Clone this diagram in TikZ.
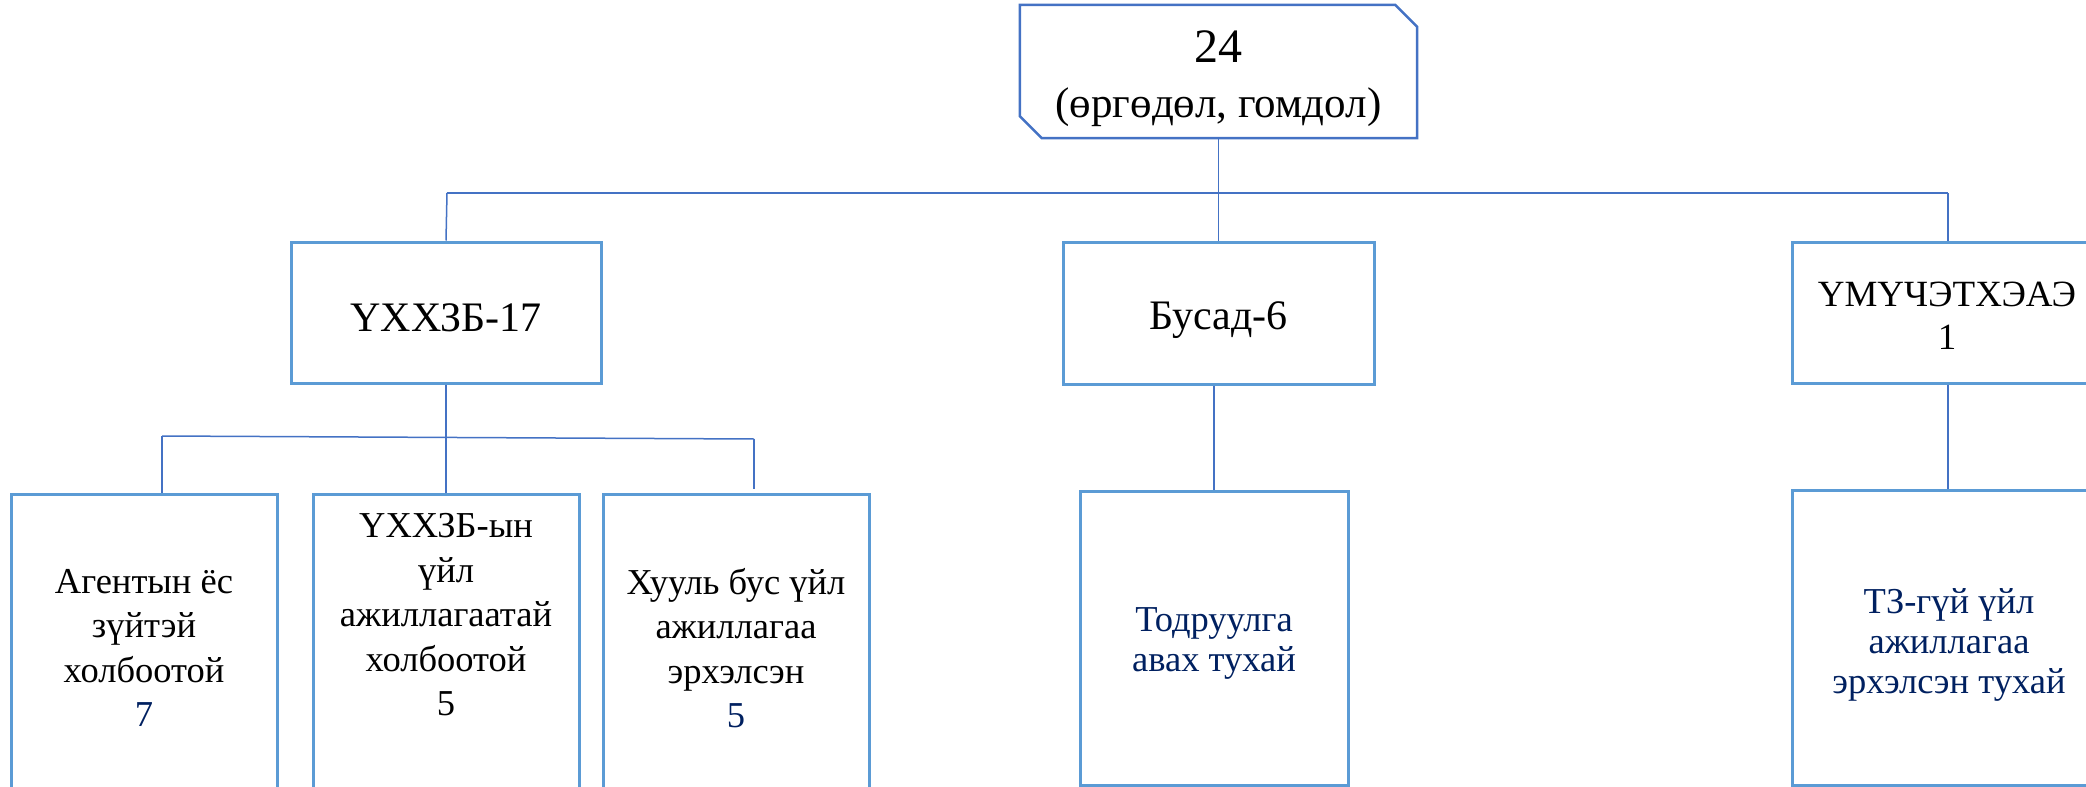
\documentclass[tikz,border=0pt]{standalone}
\usepackage{fontspec}
\setmainfont{Liberation Serif}
\usetikzlibrary{calc}
\definecolor{boxblue}{HTML}{5B9BD5}
\definecolor{lineblue}{HTML}{4472C4}
\definecolor{navy}{HTML}{002060}
\begin{document}
\begin{tikzpicture}[x=1pt,y=-1pt,
  box/.style={draw=boxblue, line width=3pt, rectangle, inner sep=0pt},
  txt/.style={align=center, inner sep=0pt},
  conn/.style={draw=lineblue, line width=1.5pt},
  midfont/.style={font=\fontsize{42}{46}\selectfont},
  lowfont/.style={font=\fontsize{36.5}{44.5}\selectfont}]
\useasboundingbox (0,0) rectangle (2086,787);
% top
\node[minimum width=397pt, minimum height=133pt, inner sep=0pt] (top) at (1218.5,71.5) {};
\draw[draw=lineblue, line width=2.5pt] (top.north west) -- ([xshift=-22pt]top.north east) -- ([yshift=-22pt]top.north east) -- (top.south east) -- ([xshift=22pt]top.south west) -- ([yshift=22pt]top.south west) -- cycle;
\node[txt, font=\fontsize{43}{55}\selectfont] (toptxt) at (1218.5,79) {{\fontsize{48}{55}\selectfont 24}\\(өргөдөл, гомдол)};
% level 2
\node[box, minimum width=310pt, minimum height=141pt] (b1) at (446,312.5) {};
\node[txt, midfont] (b1t) at (446,318) {ҮХХЗБ-17};
\node[box, minimum width=311pt, minimum height=142pt] (b2) at (1218.5,313) {};
\node[txt, midfont] (b2t) at (1218.5,320) {Бусад-6};
\node[box, minimum width=312pt, minimum height=141pt] (b3) at (1948,312.5) {};
\node[txt, font=\fontsize{37}{43}\selectfont] (b3t) at (1947,316) {ҮМҮЧЭТХЭАЭ\\1};
% level 3
\node[box, minimum width=266pt, minimum height=306pt] (c1) at (144,647) {};
\node[txt, lowfont] (c1t) at (144,648) {Агентын ёс\\зүйтэй\\холбоотой\\\textcolor{navy}{7}};
\node[box, minimum width=266pt, minimum height=306pt] (c2) at (446,647) {};
\node[txt, lowfont] (c2t) at (446,615) {ҮХХЗБ-ын\\үйл\\ажиллагаатай\\холбоотой\\5};
\node[box, minimum width=266pt, minimum height=306pt] (c3) at (736,647) {};
\node[txt, lowfont] (c3t) at (736,648) {Хууль бус үйл\\ажиллагаа\\эрхэлсэн\\\textcolor{navy}{5}};
\node[box, minimum width=268pt, minimum height=294pt] (c4) at (1214,638) {};
\node[txt, lowfont, text=navy, font=\fontsize{36.5}{40}\selectfont] (c4t) at (1214,643) {Тодруулга\\авах тухай};
\node[box, minimum width=312pt, minimum height=295pt] (c5) at (1948,637.5) {};
\node[txt, text=navy, font=\fontsize{36.5}{40}\selectfont] (c5t) at (1949,645) {ТЗ-гүй үйл\\ажиллагаа\\эрхэлсэн тухай};
% connectors
\coordinate (jl) at (447,193);
\coordinate (jr) at (1948,193);
\draw[conn] (top.south) -- (top.south |- jl);
\draw[conn] (jl) -- (jr);
\draw[conn] (jl) -- (b1.north);
\draw[conn] (b2.north |- jl) -- (b2.north);
\draw[conn] (jr) -- (b3.north);
\coordinate (kl) at (162,436);
\coordinate (kr) at (754,439);
\coordinate (kre) at (754,489);
\draw[conn] (b1.south) -- (c2.north);
\draw[conn] (kl) -- (kr);
\draw[conn] (kl) -- (kl |- c1.north);
\draw[conn] (kr) -- (kre);
\draw[conn] (b2.south -| c4.north) -- (c4.north);
\draw[conn] (b3.south) -- (c5.north);
\end{tikzpicture}
\end{document}
